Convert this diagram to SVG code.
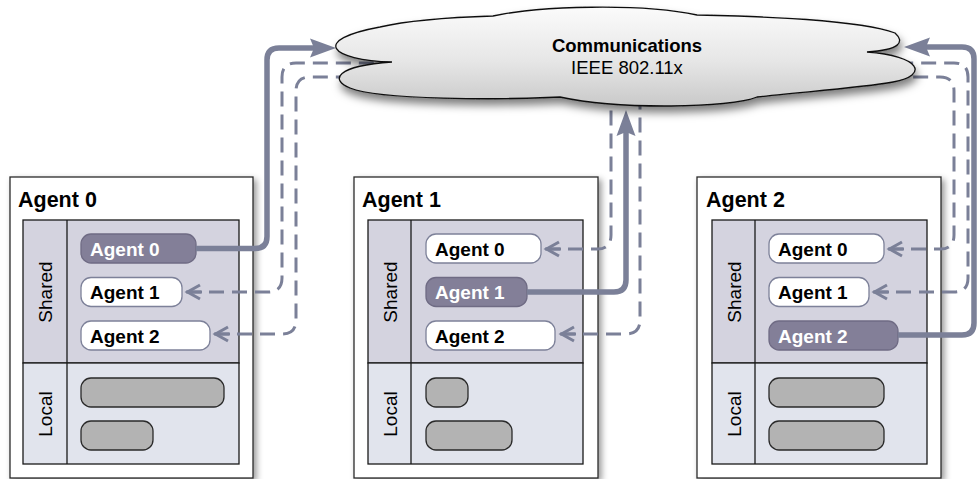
<svg xmlns="http://www.w3.org/2000/svg" width="977" height="479" viewBox="0 0 977 479">
<style>
  text { font-family: "Liberation Sans", Arial, Helvetica, sans-serif; }
  .box { fill: #ffffff; stroke: #2a2a2a; stroke-width: 1.3; }
  .title { font-size: 21.5px; font-weight: bold; fill: #000; }
  .shared { fill: #d4d3df; stroke: #1a1a1a; stroke-width: 1.3; }
  .local { fill: #e1e4ed; stroke: #1a1a1a; stroke-width: 1.3; }
  .div { stroke: #1a1a1a; stroke-width: 1.3; fill: none; }
  .sec { font-size: 19px; fill: #000; }
  .pill { fill: #ffffff; stroke: #7d8199; stroke-width: 1.3; }
  .pilld { fill: #837f98; stroke: #6f6b84; stroke-width: 1.3; }
  .pt { font-size: 19px; font-weight: bold; fill: #000; }
  .ptd { font-size: 19px; font-weight: bold; fill: #ffffff; }
  .mem { fill: #b3b3b3; stroke: #2a2a2a; stroke-width: 1.3; }
  .solid { fill: none; stroke: #7b8098; stroke-width: 5.5; marker-end: url(#arrow); }
  .dash { fill: none; stroke: #7b8098; stroke-width: 3; stroke-dasharray: 15 8; marker-start: url(#chev); }
  .ct { font-size: 18.5px; fill: #000; text-anchor: middle; }
</style>
<defs>
  <marker id="arrow" markerUnits="userSpaceOnUse" viewBox="-18 -11 30 22" markerWidth="30" markerHeight="22" refX="0" refY="0" orient="auto" overflow="visible">
    <path d="M -16,-9.5 L 10,0 L -16,9.5 L -12,0 z" fill="#7b8098"/>
  </marker>
  <marker id="chev" markerUnits="userSpaceOnUse" viewBox="-2 -9 20 18" markerWidth="20" markerHeight="18" refX="0" refY="0" orient="auto" overflow="visible">
    <path d="M 14,-7 L 1.5,0 L 14,7" fill="none" stroke="#7b8098" stroke-width="3" stroke-linejoin="miter"/>
    <path d="M 1.5,0 H 16" stroke="#7b8098" stroke-width="3"/>
  </marker>
  <linearGradient id="cloudg" x1="0" y1="0" x2="0" y2="1">
    <stop offset="0" stop-color="#fbfbfb"/>
    <stop offset="0.55" stop-color="#e6e6e6"/>
    <stop offset="1" stop-color="#c9c9c9"/>
  </linearGradient>
  <filter id="shadow" x="-10%" y="-10%" width="130%" height="130%">
    <feDropShadow dx="3" dy="3" stdDeviation="3" flood-color="#000" flood-opacity="0.4"/>
  </filter>
  <filter id="cshadow" x="-10%" y="-20%" width="130%" height="160%">
    <feDropShadow dx="2" dy="6" stdDeviation="4" flood-color="#000" flood-opacity="0.5"/>
  </filter>
</defs>

<g id="agent0">
  <rect class="box" x="10" y="177" width="243" height="301" filter="url(#shadow)"/>
  <text class="title" x="18" y="207">Agent 0</text>
  <rect class="shared" x="23" y="220" width="216" height="143"/>
  <rect class="local" x="23" y="363" width="216" height="101"/>
  <line class="div" x1="67" y1="220" x2="67" y2="464"/>
  <text class="sec" transform="translate(52,292) rotate(-90)" text-anchor="middle">Shared</text>
  <text class="sec" transform="translate(52,414) rotate(-90)" text-anchor="middle">Local</text>
  <rect class="pilld" x="81" y="234" width="115" height="29" rx="10"/>
  <text class="ptd" x="90" y="255.5">Agent 0</text>
  <rect class="pill" x="81" y="277.5" width="101" height="29" rx="10"/>
  <text class="pt" x="90" y="299">Agent 1</text>
  <rect class="pill" x="81" y="321" width="129" height="29" rx="10"/>
  <text class="pt" x="90" y="342.5">Agent 2</text>
  <rect class="mem" x="81" y="378" width="143" height="29" rx="10"/>
  <rect class="mem" x="81" y="421" width="72" height="29" rx="10"/>
</g>

<g id="agent1">
  <rect class="box" x="354" y="177" width="244" height="301" filter="url(#shadow)"/>
  <text class="title" x="362" y="207">Agent 1</text>
  <rect class="shared" x="368" y="220" width="215" height="143"/>
  <rect class="local" x="368" y="363" width="215" height="101"/>
  <line class="div" x1="411" y1="220" x2="411" y2="464"/>
  <text class="sec" transform="translate(397,292) rotate(-90)" text-anchor="middle">Shared</text>
  <text class="sec" transform="translate(397,414) rotate(-90)" text-anchor="middle">Local</text>
  <rect class="pill" x="426" y="234" width="115" height="29" rx="10"/>
  <text class="pt" x="435" y="255.5">Agent 0</text>
  <rect class="pilld" x="426" y="277.5" width="101" height="29" rx="10"/>
  <text class="ptd" x="435" y="299">Agent 1</text>
  <rect class="pill" x="426" y="321" width="129" height="29" rx="10"/>
  <text class="pt" x="435" y="342.5">Agent 2</text>
  <rect class="mem" x="426" y="378" width="42" height="29" rx="10"/>
  <rect class="mem" x="426" y="421" width="86" height="29" rx="10"/>
</g>

<g id="agent2">
  <rect class="box" x="697" y="177" width="244" height="301" filter="url(#shadow)"/>
  <text class="title" x="706" y="207">Agent 2</text>
  <rect class="shared" x="712" y="220" width="215" height="143"/>
  <rect class="local" x="712" y="363" width="215" height="101"/>
  <line class="div" x1="755" y1="220" x2="755" y2="464"/>
  <text class="sec" transform="translate(741,292) rotate(-90)" text-anchor="middle">Shared</text>
  <text class="sec" transform="translate(741,414) rotate(-90)" text-anchor="middle">Local</text>
  <rect class="pill" x="769" y="234" width="115" height="29" rx="10"/>
  <text class="pt" x="778" y="255.5">Agent 0</text>
  <rect class="pill" x="769" y="277.5" width="100" height="29" rx="10"/>
  <text class="pt" x="778" y="299">Agent 1</text>
  <rect class="pilld" x="769" y="321" width="129" height="29" rx="10"/>
  <text class="ptd" x="778" y="342.5">Agent 2</text>
  <rect class="mem" x="769" y="378" width="115" height="29" rx="10"/>
  <rect class="mem" x="769" y="421" width="115" height="29" rx="10"/>
</g>

<g id="connectors">
  <path class="solid" d="M 196,248.5 H 255 Q 267,248.5 267,236.5 V 60 Q 267,48 279,48 H 326"/>
  <path class="dash" d="M 186,292 H 268 Q 282,292 282,278 V 77 Q 282,63 296,63 H 400"/>
  <path class="dash" d="M 214,334 H 282 Q 296,334 296,320 V 91 Q 296,77 310,77 H 400"/>

  <path class="solid" d="M 527,292 H 614 Q 626,292 626,280 V 120"/>
  <path class="dash" d="M 545,249 H 597 Q 611,249 611,235 V 95"/>
  <path class="dash" d="M 560,334 H 626 Q 640,334 640,320 V 95"/>

  <path class="solid" d="M 898,335 H 962 Q 974,335 974,323 V 59 Q 974,47 962,47 H 914"/>
  <path class="dash" d="M 888,249 H 940 Q 954,249 954,235 V 91 Q 954,77 940,77 H 860"/>
  <path class="dash" d="M 873,292 H 954 Q 968,292 968,278 V 77 Q 968,63 954,63 H 860"/>
</g>

<g id="cloud">
  <path d="M 392,62 C 330,60 310,40 380,27 C 410,20 460,17 493,16 C 540,6 640,3 697,15 C 760,16 860,20 895,33 C 905,42 900,50 867,52 C 920,56 930,75 893,82 C 860,88 800,92 757,97 C 730,108 620,110 560,97 C 500,100 380,100 350,88 C 330,80 335,66 392,62 Z" fill="url(#cloudg)" stroke="#111" stroke-width="1.3" filter="url(#cshadow)"/>
  <text class="ct" x="627" y="52" font-weight="bold">Communications</text>
  <text class="ct" x="627" y="74">IEEE 802.11x</text>
</g>
</svg>
